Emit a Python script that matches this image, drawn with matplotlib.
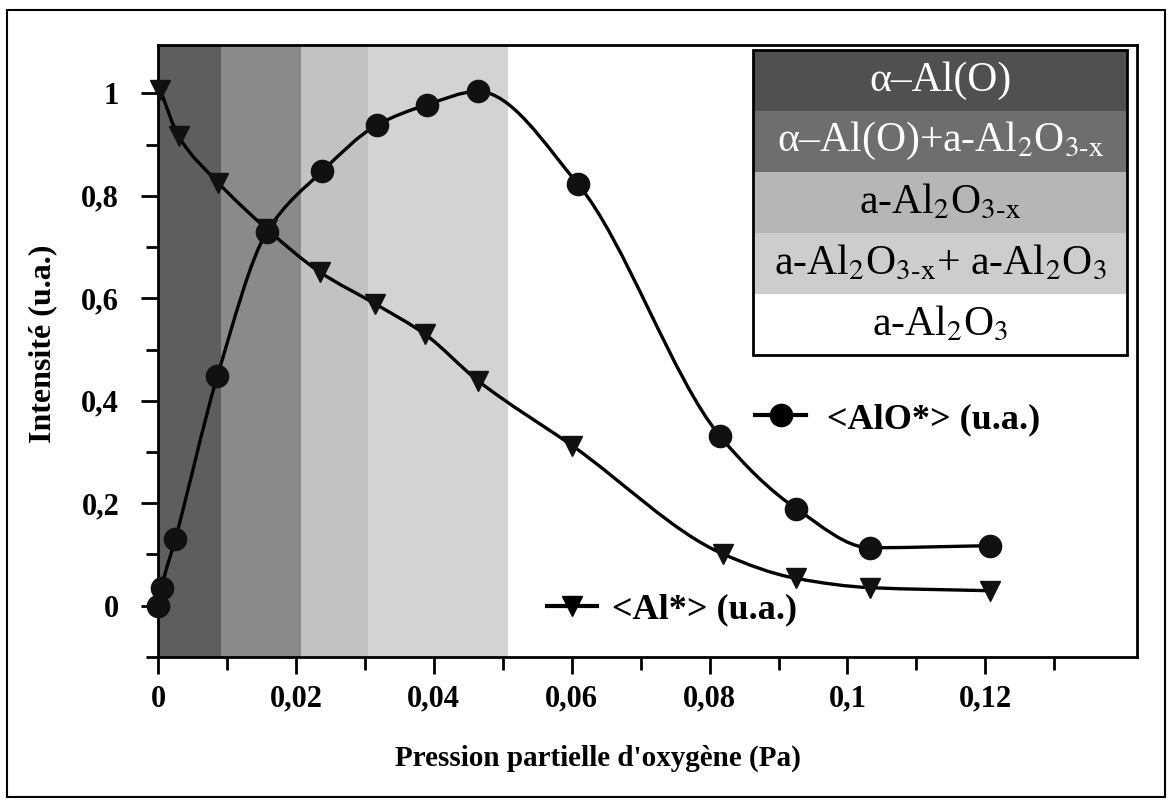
import numpy as np
import matplotlib
matplotlib.use('Agg')
import matplotlib.pyplot as plt
from matplotlib.path import Path
from matplotlib.patches import PathPatch, Rectangle
from matplotlib.lines import Line2D
from matplotlib.ticker import MultipleLocator, FuncFormatter

plt.rcParams['font.family'] = ['Liberation Serif', 'DejaVu Serif']
plt.rcParams['mathtext.fontset'] = 'stix'

# données
x_alo = [0.0, 0.0005, 0.0025, 0.0086, 0.0158, 0.0238, 0.0317, 0.039, 0.0464, 0.0609, 0.0815, 0.0926, 0.1033, 0.1207]
y_alo = [0.0, 0.035, 0.13, 0.448, 0.73, 0.848, 0.938, 0.978, 1.004, 0.823, 0.331, 0.189, 0.113, 0.117]

x_al = [0.0003, 0.003, 0.0087, 0.0158, 0.0235, 0.0315, 0.0387, 0.0464, 0.0601, 0.0819, 0.0926, 0.1033, 0.1207]
y_al = [1.007, 0.916, 0.826, 0.735, 0.651, 0.589, 0.53, 0.439, 0.312, 0.101, 0.053, 0.035, 0.029]

# zones de phases (Pa)
zone_bords = [0.0, 0.0091, 0.0207, 0.0304, 0.0507]
zone_couleurs = ['#5e5e5e', '#8a8a8a', '#c2c2c2', '#d3d3d3']

phases = ['α–Al(O)',
          r'α–Al(O)+a-Al$_2$O$_{3\text{-x}}$',
          r'a-Al$_2$O$_{3\text{-x}}$',
          r'a-Al$_2$O$_{3\text{-x}}$+ a-Al$_2$O$_3$',
          r'a-Al$_2$O$_3$']
phase_couleurs = ['#505050', '#6e6e6e', '#b6b6b6', '#cdcdcd', '#ffffff']
phase_texte = ['white', 'white', 'black', 'black', 'black']


def courbe_lisse(x, y):
    # Hermite monotone (type pchip) -> segments de Bezier cubiques
    x = np.asarray(x, float)
    y = np.asarray(y, float)
    h = np.diff(x)
    d = np.diff(y) / h
    n = len(x)
    m = np.zeros(n)
    for k in range(1, n - 1):
        if d[k - 1] * d[k] > 0:
            w1 = 2 * h[k] + h[k - 1]
            w2 = h[k] + 2 * h[k - 1]
            m[k] = (w1 + w2) / (w1 / d[k - 1] + w2 / d[k])
    m[0] = d[0]
    m[-1] = d[-1]
    verts = [(x[0], y[0])]
    codes = [Path.MOVETO]
    for k in range(n - 1):
        verts += [(x[k] + h[k] / 3, y[k] + m[k] * h[k] / 3),
                  (x[k + 1] - h[k] / 3, y[k + 1] - m[k + 1] * h[k] / 3),
                  (x[k + 1], y[k + 1])]
        codes += [Path.CURVE4] * 3
    return Path(verts, codes)


fig = plt.figure(figsize=(11.71, 8), dpi=100)
ax = fig.add_axes([0.135, 0.179, 0.836, 0.765])

for i in range(len(zone_couleurs)):
    ax.axvspan(zone_bords[i], zone_bords[i + 1], color=zone_couleurs[i], lw=0, zorder=0)

ax.add_patch(PathPatch(courbe_lisse(x_alo, y_alo), fill=False, lw=2.4, color='black', zorder=3))
ax.add_patch(PathPatch(courbe_lisse(x_al, y_al), fill=False, lw=2.4, color='black', zorder=3))
ax.plot(x_alo, y_alo, 'o', color='#111111', ms=16, zorder=4, clip_on=False)
ax.plot(x_al, y_al, 'v', color='#111111', ms=14, zorder=4, clip_on=False)

ax.set_xlim(0, 0.142)
ax.set_ylim(-0.1, 1.095)

virgule = FuncFormatter(lambda v, p: ('%g' % round(v, 4)).replace('.', ','))
ax.set_xticks(np.arange(0, 0.121, 0.02))
ax.set_xticks(np.arange(0.01, 0.131, 0.02), minor=True)
ax.yaxis.set_major_locator(MultipleLocator(0.2))
ax.yaxis.set_minor_locator(MultipleLocator(0.1))
ax.xaxis.set_major_formatter(virgule)
ax.yaxis.set_major_formatter(virgule)
ax.tick_params(which='major', direction='out', length=12, width=2, labelsize=22, pad=8)
ax.tick_params(which='minor', direction='out', length=9, width=2)
ax.tick_params(axis='y', pad=16)
for lab in ax.get_xticklabels() + ax.get_yticklabels():
    lab.set_fontweight('bold')
for s in ax.spines.values():
    s.set_linewidth(2)

ax.set_xlabel("Pression partielle d'oxygène (Pa)", fontsize=21, fontweight='bold')
ax.set_ylabel('Intensité (u.a.)', fontsize=23, fontweight='bold')
ax.xaxis.set_label_coords(0.449, -0.143)
ax.yaxis.set_label_coords(-0.103, 0.511)

# légendes des courbes
h_alo = Line2D([], [], color='black', lw=3, marker='o', ms=16)
h_al = Line2D([], [], color='black', lw=3, marker='v', ms=14)
leg1 = ax.legend([h_alo], ['<AlO*> (u.a.)'], loc='center left', bbox_to_anchor=(0.610, 0.388),
                 frameon=False, handlelength=1.4, handletextpad=0.6, borderpad=0, borderaxespad=0,
                 prop={'size': 26, 'weight': 'bold'})
ax.add_artist(leg1)
ax.legend([h_al], ['<Al*> (u.a.)'], loc='center left', bbox_to_anchor=(0.397, 0.077),
          frameon=False, handlelength=1.4, handletextpad=0.4, borderpad=0, borderaxespad=0,
          prop={'size': 26, 'weight': 'bold'})

# tableau des phases
bx0, bx1, by0, by1 = 0.608, 0.990, 0.493, 0.992
hrow = (by1 - by0) / len(phases)
for i, (txt, c, tc) in enumerate(zip(phases, phase_couleurs, phase_texte)):
    ytop = by1 - i * hrow
    ax.add_patch(Rectangle((bx0, ytop - hrow), bx1 - bx0, hrow, transform=ax.transAxes,
                           facecolor=c, edgecolor='none', zorder=5))
    ax.text((bx0 + bx1) / 2, ytop - hrow / 2, txt, transform=ax.transAxes, ha='center', va='center',
            fontsize=30, color=tc, zorder=6)
ax.add_patch(Rectangle((bx0, by0), bx1 - bx0, by1 - by0, transform=ax.transAxes,
                       facecolor='none', edgecolor='black', lw=2, zorder=7))

# cadre extérieur
fig.patches.append(Rectangle((7 / 1171, 3 / 800), 1158 / 1171, 787 / 800, transform=fig.transFigure,
                             facecolor='none', edgecolor='black', lw=1.5))

fig.savefig('out.png', dpi=100)
